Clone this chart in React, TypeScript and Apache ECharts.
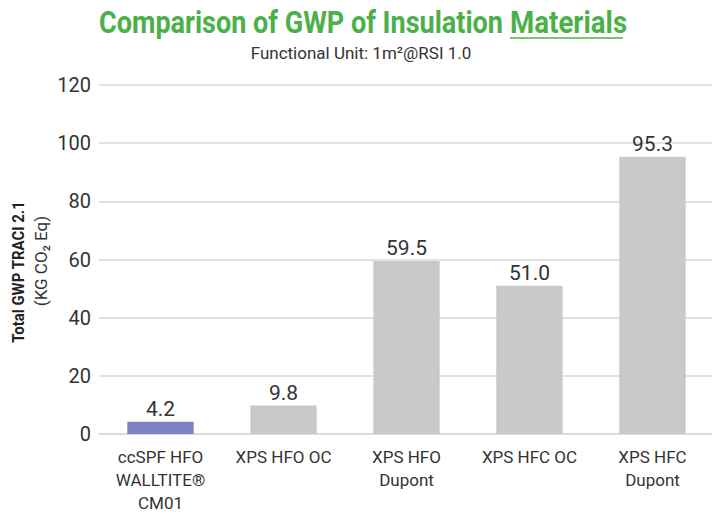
import React, { useEffect, useRef } from "react";
import * as echarts from "echarts";

const categories = [
  "ccSPF HFO\nWALLTITE®\nCM01",
  "XPS HFO OC",
  "XPS HFO\nDupont",
  "XPS HFC OC",
  "XPS HFC\nDupont",
];
const values = [4.2, 9.8, 59.5, 51.0, 95.3];
const barColors = ["#7a84c3", "#c8c9cb", "#c8c9cb", "#c8c9cb", "#c8c9cb"];
const yTicks = { min: 0, max: 120, interval: 20 };

const FONT = "Roboto, 'Noto Sans', sans-serif";
const GREEN = "#4cb04a";

export default function App() {
  const ref = useRef<HTMLDivElement>(null);
  useEffect(() => {
    const chart = echarts.init(ref.current!, undefined, { renderer: "svg" });
    chart.setOption({
      animation: false,
      grid: { left: 99, right: 6, top: 85, bottom: 84, containLabel: false },
      xAxis: {
        type: "category",
        data: categories,
        axisLine: { show: true, lineStyle: { color: "#d9d9d9", width: 1.5 } },
        axisTick: { show: false },
        axisLabel: {
          interval: 0,
          color: "#333",
          fontFamily: FONT,
          fontSize: 17,
          lineHeight: 23,
          margin: 11,
        },
      },
      yAxis: {
        type: "value",
        min: yTicks.min,
        max: yTicks.max,
        interval: yTicks.interval,
        axisLine: { show: false },
        axisTick: { show: false },
        splitLine: { lineStyle: { color: "#d9d9d9", width: 1.5 } },
        axisLabel: { color: "#333", fontFamily: FONT, fontSize: 20, margin: 8 },
      },
      series: [
        {
          type: "bar",
          barWidth: "54%",
          data: values.map((v, i) => ({ value: v, itemStyle: { color: barColors[i] } })),
          label: {
            show: true,
            position: "top",
            distance: 2,
            color: "#333",
            fontFamily: FONT,
            fontSize: 21,
            formatter: (p: any) => Number(p.value).toFixed(1),
          },
        },
      ],
      graphic: [
        {
          type: "text",
          x: 503,
          y: 22,
          scaleX: 0.845,
          style: {
            text: "Comparison of GWP of Insulation",
            fill: GREEN,
            font: `bold 32px ${FONT}`,
            align: "right",
            verticalAlign: "middle",
          },
        },
        {
          type: "text",
          x: 510,
          y: 22,
          scaleX: 0.865,
          style: {
            text: "Materials",
            fill: GREEN,
            font: `bold 32px ${FONT}`,
            align: "left",
            verticalAlign: "middle",
          },
        },
        {
          type: "line",
          shape: { x1: 510, y1: 38, x2: 623, y2: 38 },
          style: { stroke: GREEN, lineWidth: 1.5 },
        },
        {
          type: "text",
          x: 361,
          y: 53,
          scaleX: 1,
          style: {
            text: "Functional Unit: 1m²@RSI 1.0",
            fill: "#333",
            font: `17px ${FONT}`,
            align: "center",
            verticalAlign: "middle",
          },
        },
        {
          type: "text",
          x: 18,
          y: 272,
          rotation: Math.PI / 2,
          scaleX: 0.88,
          style: {
            text: "Total GWP TRACI 2.1",
            fill: "#222",
            font: `bold 17px ${FONT}`,
            align: "center",
            verticalAlign: "middle",
          },
        },
        {
          type: "text",
          x: 41,
          y: 261,
          rotation: Math.PI / 2,
          scaleX: 1,
          style: {
            text: "(KG CO₂ Eq)",
            fill: "#333",
            font: `17px ${FONT}`,
            align: "center",
            verticalAlign: "middle",
          },
        },
      ],
    });
    return () => chart.dispose();
  }, []);
  return <div ref={ref} style={{ width: 720, height: 518, margin: -8 }} />;
}
